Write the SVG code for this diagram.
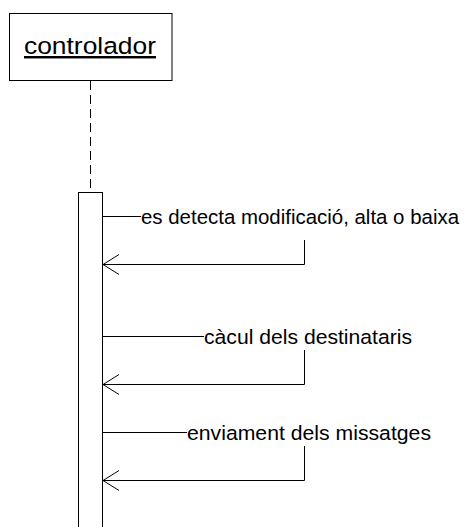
<svg xmlns="http://www.w3.org/2000/svg" width="476" height="527" viewBox="0 0 476 527">
<style>
.ln{stroke:#000;stroke-width:1;fill:none}
.box{stroke:#000;stroke-width:1;fill:#fff}
.t{font-family:"Liberation Sans",Arial,sans-serif;fill:#000}
.msg{font-size:20.5px}
.ttl{font-size:24.5px;text-decoration:underline}
</style>
<defs>
<marker id="open" markerWidth="20" markerHeight="22" refX="17" refY="11" orient="auto" markerUnits="userSpaceOnUse">
<path d="M1,1 L17,11 L1,21" fill="none" stroke="#000" stroke-width="1"/>
</marker>
</defs>
<rect width="476" height="527" fill="#fff"/>
<g id="controlador">
<rect class="box" x="9.5" y="13.5" width="162.5" height="67"/>
<text class="t ttl" x="24" y="54" textLength="132" lengthAdjust="spacingAndGlyphs">controlador</text>
</g>
<g id="lifeline">
<line class="ln" x1="90.5" y1="81" x2="90.5" y2="192" stroke-dasharray="9,5"/>
</g>
<g id="activation">
<rect class="box" x="78.5" y="192.5" width="24" height="340"/>
</g>
<g id="connectors">
<line class="ln" x1="102.5" y1="216.5" x2="141" y2="216.5"/>
<polyline class="ln" points="304.5,240 304.5,264.5 103,264.5" marker-end="url(#open)"/>
<line class="ln" x1="102.5" y1="336.5" x2="204" y2="336.5"/>
<polyline class="ln" points="304.5,350 304.5,384.5 103,384.5" marker-end="url(#open)"/>
<line class="ln" x1="102.5" y1="432.5" x2="187" y2="432.5"/>
<polyline class="ln" points="304.5,446 304.5,480.5 103,480.5" marker-end="url(#open)"/>
</g>
<g id="labels">
<text class="t msg" x="141" y="223.5" textLength="318" lengthAdjust="spacingAndGlyphs">es detecta modificació, alta o baixa</text>
<text class="t msg" x="204" y="343.5" textLength="208" lengthAdjust="spacingAndGlyphs">càcul dels destinataris</text>
<text class="t msg" x="187" y="439.5" textLength="244" lengthAdjust="spacingAndGlyphs">enviament dels missatges</text>
</g>
</svg>
